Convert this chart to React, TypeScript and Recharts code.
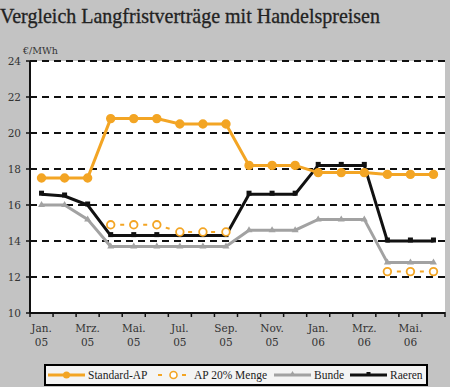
import { LineChart, Line, XAxis, YAxis, CartesianGrid, Legend } from 'recharts'

// Monate Jan. 05 bis Jun. 06
const months = ['Jan.', 'Feb.', 'Mrz.', 'Apr.', 'Mai.', 'Jun.', 'Jul.', 'Aug.', 'Sep.', 'Okt.', 'Nov.', 'Dez.', 'Jan.', 'Feb.', 'Mrz.', 'Apr.', 'Mai.', 'Jun.']
const years = ['05', '05', '05', '05', '05', '05', '05', '05', '05', '05', '05', '05', '06', '06', '06', '06', '06', '06']

const standardAP = [17.5, 17.5, 17.5, 20.8, 20.8, 20.8, 20.5, 20.5, 20.5, 18.2, 18.2, 18.2, 17.8, 17.8, 17.8, 17.7, 17.7, 17.7]
const ap20Menge = [null, null, null, 14.9, 14.9, 14.9, 14.5, 14.5, 14.5, null, null, null, null, null, null, 12.3, 12.3, 12.3]
const bunde = [16.0, 16.0, 15.2, 13.7, 13.7, 13.7, 13.7, 13.7, 13.7, 14.6, 14.6, 14.6, 15.2, 15.2, 15.2, 12.8, 12.8, 12.8]
const raeren = [16.6, 16.5, 16.0, 14.3, 14.3, 14.3, 14.3, 14.3, 14.3, 16.6, 16.6, 16.6, 18.2, 18.2, 18.2, 14.0, 14.0, 14.0]

const yTicks = [10, 12, 14, 16, 18, 20, 22, 24]

const ORANGE = '#f3a524'
const GREY = '#a2a2a2'
const BLACK = '#111111'
const BG = '#c3c3c3'
const FONT = '"DejaVu Serif", "Liberation Serif", serif'

const data = months.map((m, i) => ({
  key: `${m} ${years[i]}`,
  month: m,
  year: years[i],
  standard: standardAP[i],
  ap20: ap20Menge[i],
  bunde: bunde[i],
  raeren: raeren[i],
}))

const MonthTick = (props: any) => {
  const { x, y, payload, index } = props
  const off = payload.offset || 11.5
  const d = data[index]
  return (
    <g>
      <line x1={x - off} x2={x - off} y1={y - 1} y2={y + 4} stroke={BLACK} strokeWidth={1.5} />
      {index === data.length - 1 && (
        <line x1={x + off} x2={x + off} y1={y - 1} y2={y + 4} stroke={BLACK} strokeWidth={1.5} />
      )}
      {index % 2 === 0 && (
        <text x={x} y={y} textAnchor="middle" fontFamily={FONT} fontSize={10.5} fill="#333">
          <tspan x={x} dy={19}>{d.month}</tspan>
          <tspan x={x} dy={14}>{d.year}</tspan>
        </text>
      )}
    </g>
  )
}

const CircleDot = (props: any) => {
  const { cx, cy, fill, stroke } = props
  if (cy == null || cx == null) return null
  return <circle cx={cx} cy={cy} r={3.8} fill={fill} stroke={stroke} strokeWidth={1.8} />
}

const TriangleDot = (props: any) => {
  const { cx, cy } = props
  if (cy == null) return null
  return <path d={`M${cx},${cy - 4} L${cx + 3.5},${cy + 2} L${cx - 3.5},${cy + 2} Z`} fill={GREY} />
}

const SquareDot = (props: any) => {
  const { cx, cy } = props
  if (cy == null) return null
  return <rect x={cx - 2.5} y={cy - 3.5} width={5} height={5} fill={BLACK} />
}

// Positionen der Legendeneinträge relativ zum Rahmen
const legendItems = [
  { name: 'Standard-AP', kind: 'standard', sym: 2, text: 42 },
  { name: 'AP 20% Menge', kind: 'ap20', sym: 109, text: 148 },
  { name: 'Bunde', kind: 'bunde', sym: 228, text: 268 },
  { name: 'Raeren', kind: 'raeren', sym: 304, text: 344 },
]

const LegendSymbol = ({ kind }: { kind: string }) => (
  <svg width={37} height={10}>
    {kind === 'standard' && (
      <>
        <line x1={0} x2={37} y1={5} y2={5} stroke={ORANGE} strokeWidth={3} />
        <circle cx={18.5} cy={5} r={3.5} fill={ORANGE} />
      </>
    )}
    {kind === 'ap20' && (
      <>
        <line x1={0} x2={37} y1={5} y2={5} stroke={ORANGE} strokeWidth={2} strokeDasharray="4 8" strokeDashoffset={-3} />
        <circle cx={18.5} cy={5} r={3.5} fill="#fff" stroke={ORANGE} strokeWidth={1.6} />
      </>
    )}
    {kind === 'bunde' && (
      <>
        <line x1={0} x2={37} y1={5} y2={5} stroke={GREY} strokeWidth={3} />
        <path d="M18.5,1 L21.5,6 L15.5,6 Z" fill={GREY} />
      </>
    )}
    {kind === 'raeren' && (
      <>
        <line x1={0} x2={37} y1={5} y2={5} stroke={BLACK} strokeWidth={3} />
        <rect x={16.5} y={2} width={4} height={4} fill={BLACK} />
      </>
    )}
  </svg>
)

const LegendBox = () => (
  <div
    style={{
      position: 'relative',
      boxSizing: 'border-box',
      height: 22,
      width: 384,
      border: '2px solid #000',
      background: '#f4f4f4',
      fontFamily: '"Liberation Serif", serif',
      fontSize: 11.5,
      color: '#222',
      whiteSpace: 'nowrap',
    }}
  >
    {legendItems.map(item => (
      <div key={item.kind}>
        <div style={{ position: 'absolute', left: item.sym, top: 4, height: 10, lineHeight: 0 }}>
          <LegendSymbol kind={item.kind} />
        </div>
        <span style={{ position: 'absolute', left: item.text, top: 2, lineHeight: '14px' }}>{item.name}</span>
      </div>
    ))}
  </div>
)

export default function App() {
  return (
    <div style={{ position: 'relative', width: 450, height: 387, background: BG, overflow: 'hidden' }}>
      <style>{'body{margin:0}'}</style>
      <svg width={450} height={60} style={{ position: 'absolute', left: 0, top: 0 }}>
        <text x={0} y={23} fontFamily='"Liberation Serif", serif' fontSize={21} fill="#222" stroke="#222" strokeWidth={0.3} textLength={380} lengthAdjust="spacingAndGlyphs">
          Vergleich Langfristverträge mit Handelspreisen
        </text>
        <text x={23} y={54} fontFamily={FONT} fontSize={9.5} fill="#333">€/MWh</text>
      </svg>
      <div style={{ position: 'absolute', left: 0, top: 0 }}>
        <LineChart width={450} height={387} data={data} margin={{ top: 61, right: 5, left: 0, bottom: 1 }}>
          <CartesianGrid vertical={false} stroke={BLACK} strokeWidth={2} strokeDasharray="7 5" fill="#ffffff" fillOpacity={1} />
          <XAxis
            dataKey="key"
            scale="band"
            interval={0}
            height={51}
            tickSize={0}
            tickMargin={0}
            tickLine={false}
            axisLine={{ stroke: BLACK, strokeWidth: 2 }}
            tick={<MonthTick />}
          />
          <YAxis
            width={30}
            domain={[10, 24]}
            ticks={yTicks}
            interval={0}
            tickSize={4}
            tickMargin={5}
            axisLine={{ stroke: BLACK, strokeWidth: 2 }}
            tickLine={{ stroke: BLACK, strokeWidth: 1.5 }}
            tick={{ fontFamily: FONT, fontSize: 10.5, fill: '#333' }}
          />
          <Legend
            verticalAlign="bottom"
            height={22}
            content={<LegendBox />}
            wrapperStyle={{ left: 44, bottom: 1, width: 384, height: 22 }}
          />
          <Line dataKey="bunde" name="Bunde" stroke={GREY} strokeWidth={3} dot={<TriangleDot />} isAnimationActive={false} />
          <Line dataKey="raeren" name="Raeren" stroke={BLACK} strokeWidth={3} dot={<SquareDot />} isAnimationActive={false} />
          <Line dataKey="ap20" name="AP 20% Menge" stroke={ORANGE} strokeWidth={2} strokeDasharray="0 9.5 4 9.5" dot={<CircleDot fill="#fff" stroke={ORANGE} />} isAnimationActive={false} />
          <Line dataKey="standard" name="Standard-AP" stroke={ORANGE} strokeWidth={3} dot={<CircleDot fill={ORANGE} stroke={ORANGE} />} isAnimationActive={false} />
        </LineChart>
      </div>
    </div>
  )
}
